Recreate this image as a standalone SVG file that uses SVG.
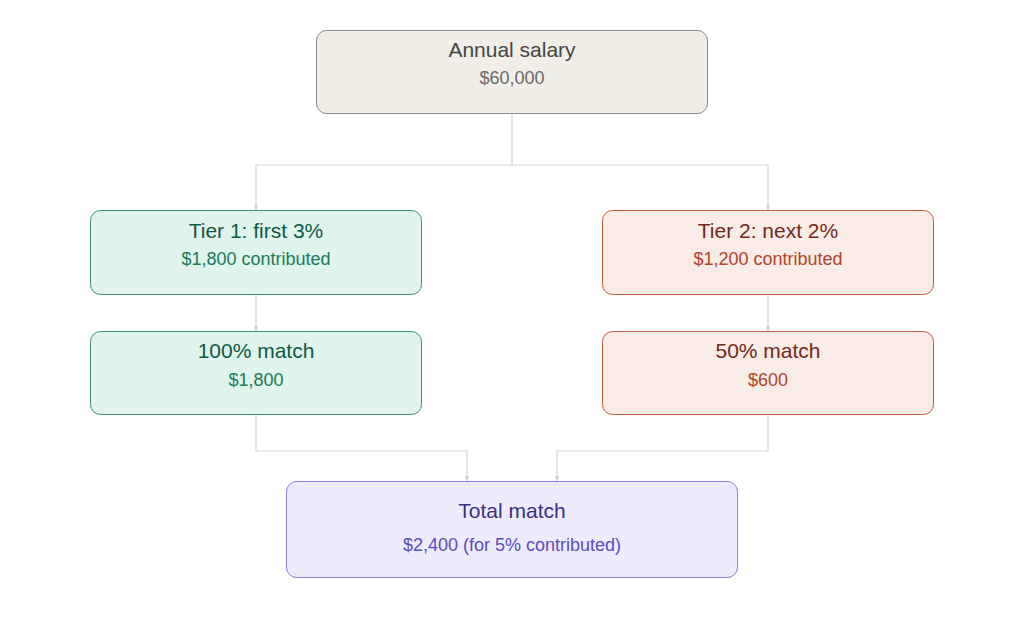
<svg xmlns="http://www.w3.org/2000/svg" width="1024" height="638" viewBox="0 0 1024 638">
<defs>
<style>
text{font-family:"Liberation Sans",Arial,sans-serif;text-anchor:middle}
.t{font-size:21px}
.s{font-size:18px}
.box{stroke-width:1}
.c{fill:none;stroke:#d6d6d6;stroke-width:1.2}
</style>
<marker id="ah" viewBox="0 0 6 6" refX="6" refY="3" markerWidth="4" markerHeight="4" orient="auto">
<path d="M0,0 L6,3 L0,6 z" fill="#d0d0d0"/>
</marker>
</defs>
<rect width="1024" height="638" fill="#ffffff"/>
<g id="connectors">
<path class="c" d="M512,114 V165 H256 V210" marker-end="url(#ah)"/>
<path class="c" d="M512,165 H768 V210" marker-end="url(#ah)"/>
<path class="c" d="M256,294 V331" marker-end="url(#ah)"/>
<path class="c" d="M768,294 V331" marker-end="url(#ah)"/>
<path class="c" d="M256,414 V451 H467 V481" marker-end="url(#ah)"/>
<path class="c" d="M768,414 V451 H557 V481" marker-end="url(#ah)"/>
</g>
<g id="annual">
<rect class="box" x="316.5" y="30.5" width="391" height="83" rx="10" fill="#f1eee8" stroke="#8c8a84"/>
<text class="t" x="512" y="57" fill="#454545">Annual salary</text>
<text class="s" x="512" y="84" fill="#6a6a6a">$60,000</text>
</g>
<g id="tier1">
<rect class="box" x="90.5" y="210.5" width="331" height="84" rx="10" fill="#e0f3ec" stroke="#3f9274"/>
<text class="t" x="256" y="238" fill="#0e5a44">Tier 1: first 3%</text>
<text class="s" x="256" y="265" fill="#1b7a5a">$1,800 contributed</text>
</g>
<g id="tier2">
<rect class="box" x="602.5" y="210.5" width="331" height="84" rx="10" fill="#f9ebe5" stroke="#c45a3e"/>
<text class="t" x="768" y="238" fill="#74291a">Tier 2: next 2%</text>
<text class="s" x="768" y="265" fill="#b0452b">$1,200 contributed</text>
</g>
<g id="match1">
<rect class="box" x="90.5" y="331.5" width="331" height="83" rx="10" fill="#e0f3ec" stroke="#3f9274"/>
<text class="t" x="256" y="358" fill="#0e5a44">100% match</text>
<text class="s" x="256" y="386" fill="#1b7a5a">$1,800</text>
</g>
<g id="match2">
<rect class="box" x="602.5" y="331.5" width="331" height="83" rx="10" fill="#f9ebe5" stroke="#c45a3e"/>
<text class="t" x="768" y="358" fill="#74291a">50% match</text>
<text class="s" x="768" y="386" fill="#b0452b">$600</text>
</g>
<g id="total">
<rect class="box" x="286.5" y="481.5" width="451" height="96" rx="10" fill="#eeecfc" stroke="#8a7fe0"/>
<text class="t" x="512" y="518" fill="#3a2f86">Total match</text>
<text class="s" x="512" y="551" fill="#5a4bc2">$2,400 (for 5% contributed)</text>
</g>
</svg>
